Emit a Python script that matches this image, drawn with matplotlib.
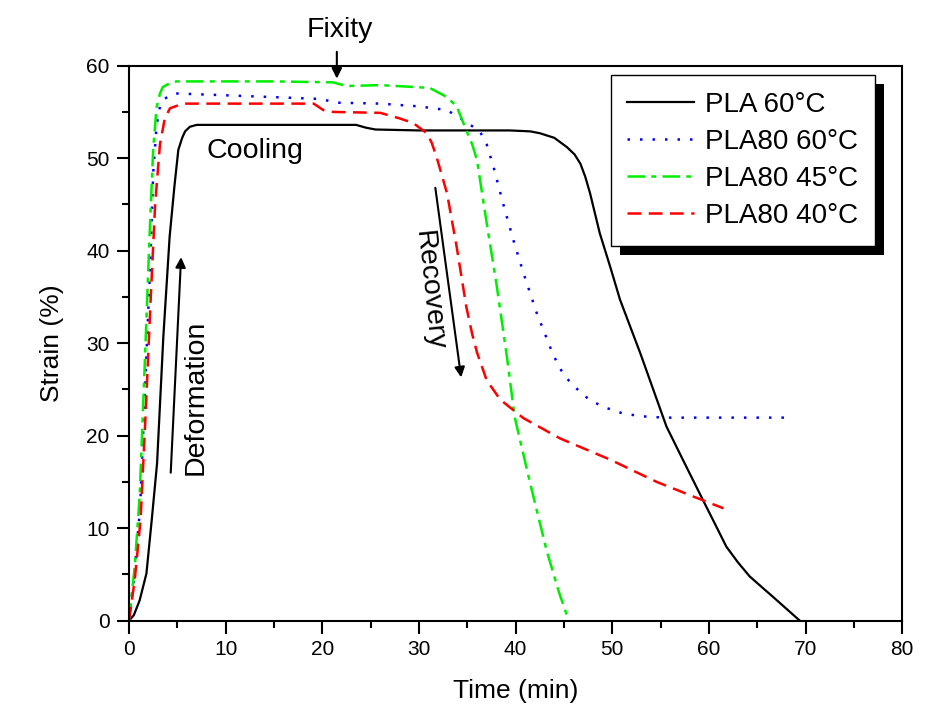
import matplotlib
matplotlib.use("Agg")
import matplotlib.pyplot as plt
from matplotlib.patches import Rectangle
from matplotlib.ticker import MultipleLocator

plt.rcParams['font.family'] = ['Liberation Sans', 'DejaVu Sans']

# PLA 60°C (negro, continua)
t_pla60 = [0, 0.5, 1.1, 1.8, 2.35, 2.9, 3.55, 4.2, 4.7, 5.1, 5.5, 5.8, 6.3, 7.0, 10, 15, 20, 23.5,
           24.5, 25.5, 30, 35, 39.4, 41.5, 42.5, 44.0, 45.3, 46.1, 46.7, 47.2, 47.7, 48.7, 49.8,
           50.8, 52.9, 55.6, 57.3, 59.4, 60.7, 61.8, 63.0, 64.2, 65.5, 66.6, 68, 69.4]
s_pla60 = [0, 0.6, 2.2, 5.1, 10.9, 17.0, 30.7, 41.5, 47.0, 50.9, 52.2, 52.9, 53.4, 53.6, 53.6, 53.6,
           53.6, 53.6, 53.3, 53.1, 53.0, 53.0, 53.0, 52.9, 52.7, 52.2, 51.2, 50.4, 49.4, 48.0, 46.2,
           41.9, 38.2, 34.7, 28.9, 21.0, 17.4, 13.0, 10.3, 8.0, 6.3, 4.8, 3.6, 2.6, 1.3, 0]

# PLA80 60°C (azul, punteada)
t_80_60 = [0, 0.6, 1.15, 1.65, 2.2, 2.5, 2.85, 3.2, 3.55, 4.2, 4.8, 10, 15, 19.8, 21.5, 26, 30,
           32.9, 34.6, 36.3, 37.0, 37.7, 38.7, 39.75, 40.8, 42.2, 43.9, 45.0, 46.3, 47.6, 49.1, 51.1,
           53, 55.3, 60, 65, 68.5]
s_80_60 = [0, 5.5, 12.3, 25.0, 38.6, 48.4, 53.5, 55.6, 56.3, 56.8, 57.0, 56.8, 56.6, 56.4, 56.0,
           55.9, 55.6, 55.2, 54.1, 52.9, 51.5, 49.1, 45.1, 41.2, 37.6, 33.2, 28.7, 26.5, 25.1, 23.9,
           23.1, 22.4, 22.1, 21.95, 21.95, 21.95, 21.95]

# PLA80 45°C (verde, raya-punto)
t_80_45 = [0, 0.6, 1.1, 1.6, 2.1, 2.5, 2.85, 3.2, 3.5, 4.2, 4.9, 10, 15, 21.1, 22.5, 26, 31.1,
           32.9, 33.9, 34.9, 35.5, 36.0, 37.0, 38.0, 39.1, 39.9, 41.5, 43.2, 44.5, 45.4]
s_80_45 = [0, 6.0, 13.5, 27.0, 41.0, 51.0, 55.5, 57.0, 57.7, 58.1, 58.3, 58.3, 58.3, 58.2, 57.8,
           57.9, 57.6, 56.6, 55.6, 53.0, 51.5, 49.8, 43.0, 36.5, 28.5, 22.0, 14.85, 7.6, 3.0, 0.3]

# PLA80 40°C (rojo, discontinua)
t_80_40 = [0, 0.6, 1.2, 1.7, 2.25, 2.7, 3.2, 3.7, 4.24, 5.6, 10, 15, 19.1, 20.1, 21.1, 26, 28,
           29.4, 30.8, 31.3, 31.8, 32.9, 33.9, 34.9, 35.5, 36.0, 37.0, 38.4, 40.8, 44.6, 49.8, 54.6,
           59.4, 61.5]
s_80_40 = [0, 4.5, 11.0, 22.0, 35.0, 45.0, 51.5, 54.3, 55.4, 55.9, 55.9, 55.9, 55.9, 55.2, 55.0,
           54.9, 54.3, 53.8, 52.7, 51.7, 50.2, 46.2, 40.4, 33.9, 31.0, 29.0, 26.0, 23.9, 21.9, 19.7,
           17.4, 15.0, 13.0, 12.15]

series = [
    ("PLA 60\u00b0C", t_pla60, s_pla60, "black", "-"),
    ("PLA80 60\u00b0C", t_80_60, s_80_60, "#0000ff", (0, (1, 4))),
    ("PLA80 45\u00b0C", t_80_45, s_80_45, "#00ee00", (0, (7, 2.5, 2, 2.5))),
    ("PLA80 40\u00b0C", t_80_40, s_80_40, "#ff0000", (0, (5.5, 3))),
]

fig = plt.figure(figsize=(9.35, 7.14), dpi=100)
ax = fig.add_axes([0.138, 0.1307, 0.827, 0.7773])

for nombre, t, s, color, estilo in series:
    lw = 1.6 if estilo == "-" else 1.8
    ax.plot(t, s, color=color, linestyle=estilo, linewidth=lw, label=nombre)

ax.set_xlim(0, 80)
ax.set_ylim(0, 60)
ax.xaxis.set_major_locator(MultipleLocator(10))
ax.xaxis.set_minor_locator(MultipleLocator(5))
ax.yaxis.set_major_locator(MultipleLocator(10))
ax.yaxis.set_minor_locator(MultipleLocator(5))
ax.tick_params(which='major', direction='out', length=9, width=1.5, labelsize=15, pad=5)
ax.tick_params(which='minor', direction='out', length=5, width=1.5)
for sp in ax.spines.values():
    sp.set_linewidth(1.5)

ax.set_xlabel("Time (min)", fontsize=19, labelpad=14)
ax.set_ylabel("Strain (%)", fontsize=19, labelpad=16)

# Anotaciones
ax.text(13.0, 50.8, "Cooling", fontsize=20.5, ha='center', va='center')
ax.text(21.8, 63.9, "Fixity", fontsize=20.5, ha='center', va='center', clip_on=False)
ax.annotate("", xy=(21.5, 58.3), xytext=(21.5, 61.8), annotation_clip=False,
            arrowprops=dict(arrowstyle='-|>', color='black', lw=1.5, mutation_scale=15))
ax.text(6.9, 24.1, "Deformation", fontsize=20.5, rotation=90, ha='center', va='center')
ax.annotate("", xy=(5.4, 39.6), xytext=(4.3, 15.7),
            arrowprops=dict(arrowstyle='-|>', color='black', lw=1.5, mutation_scale=15))
ax.text(31.0, 35.7, "Recovery", fontsize=20.5, rotation=-84, ha='center', va='center')
ax.annotate("", xy=(34.4, 26.0), xytext=(31.65, 47.1),
            arrowprops=dict(arrowstyle='-|>', color='black', lw=1.5, mutation_scale=15))

leg = ax.legend(loc='upper left', bbox_to_anchor=(0.623, 0.983), fontsize=20,
                frameon=True, fancybox=False, edgecolor='black', facecolor='white',
                framealpha=1.0, handlelength=2.4, borderpad=0.6, labelspacing=0.4,
                handletextpad=0.4, borderaxespad=0)
leg.get_frame().set_linewidth(1.0)
leg.set_zorder(6)

fig.canvas.draw()
bb = leg.get_window_extent().transformed(fig.transFigure.inverted())
sombra = Rectangle((bb.x0 + 9 / 935, bb.y0 - 9 / 714), bb.width, bb.height,
                   transform=fig.transFigure, facecolor='black', edgecolor='none',
                   zorder=5, clip_on=False)
ax.add_patch(sombra)

fig.savefig("out.png", dpi=100)
